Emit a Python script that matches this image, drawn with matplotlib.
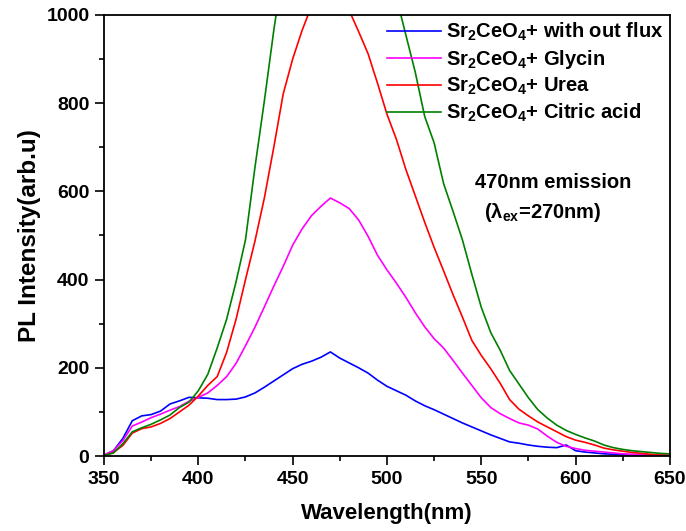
import numpy as np
import matplotlib
matplotlib.use("Agg")
import matplotlib.pyplot as plt
from matplotlib.ticker import MultipleLocator

# wavelength grid (nm)
wavelength = np.arange(350, 651, 5)

# PL intensity, one value per 5 nm
no_flux = [2, 12, 40, 80, 91, 94, 102, 118, 125, 133, 132, 131, 128, 128, 129,
           134, 143, 156, 170, 184, 198, 208, 215, 224, 236, 222, 211, 200, 188,
           172, 158, 148, 138, 125, 114, 105, 95, 85, 75, 66, 57, 48, 40, 32, 29,
           25, 22, 20, 19, 25, 12, 9, 7, 5, 4, 3, 3, 2, 2, 1, 1]
glycin = [2, 12, 35, 68, 77, 87, 95, 104, 112, 124, 133, 143, 160, 180, 210,
          250, 292, 338, 385, 430, 478, 515, 545, 566, 585, 574, 561, 535, 498,
          455, 422, 392, 360, 325, 293, 266, 245, 217, 188, 160, 132, 110, 96,
          85, 75, 70, 61, 45, 31, 22, 17, 13, 11, 9, 7, 5, 4, 3, 2, 2, 1]
urea = [1, 8, 24, 52, 62, 66, 74, 85, 100, 115, 136, 160, 180, 235, 310, 400,
        487, 585, 700, 821, 900, 965, 1020, 1060, 1075, 1060, 1010, 962, 912,
        845, 775, 718, 650, 590, 530, 473, 420, 366, 315, 262, 228, 198, 165,
        128, 106, 91, 77, 66, 55, 44, 36, 31, 25, 18, 14, 11, 8, 6, 4, 2, 2]
citric = [1, 7, 28, 55, 64, 72, 82, 93, 110, 122, 148, 185, 245, 310, 395, 490,
          654, 805, 965, 1110, 1260, 1380, 1460, 1500, 1510, 1480, 1400, 1300,
          1200, 1120, 1080, 1040, 955, 870, 770, 710, 618, 555, 490, 412, 337,
          280, 240, 194, 163, 132, 105, 86, 70, 58, 49, 41, 34, 25, 19, 15, 12,
          10, 8, 6, 5]

labels = [r"Sr$_2$CeO$_4$+ with out flux", r"Sr$_2$CeO$_4$+ Glycin",
          r"Sr$_2$CeO$_4$+ Urea", r"Sr$_2$CeO$_4$+ Citric acid"]
colors = ["#0000ff", "#ff00ff", "#ff0000", "#008000"]

plt.rcParams["font.family"] = ["Liberation Sans", "DejaVu Sans"]
plt.rcParams["font.weight"] = "bold"
plt.rcParams["mathtext.fontset"] = "custom"
plt.rcParams["mathtext.rm"] = "Liberation Sans:bold"
plt.rcParams["mathtext.it"] = "Liberation Sans:bold"
plt.rcParams["mathtext.bf"] = "Liberation Sans:bold"
plt.rcParams["mathtext.default"] = "rm"

fig = plt.figure(figsize=(6.86, 5.31), dpi=100)
ax = fig.add_axes([0.1516, 0.1412, 0.825, 0.8306])

for ys, lab, c in zip([no_flux, glycin, urea, citric], labels, colors):
    ax.plot(wavelength, ys, color=c, lw=1.2, label=lab)

ax.set_xlim(350, 650)
ax.set_ylim(0, 1000)
ax.xaxis.set_major_locator(MultipleLocator(50))
ax.xaxis.set_minor_locator(MultipleLocator(25))
ax.yaxis.set_major_locator(MultipleLocator(200))
ax.yaxis.set_minor_locator(MultipleLocator(100))
ax.tick_params(which="major", direction="out", length=6.5, width=1.2,
               labelsize=14, pad=4, top=False, right=False)
ax.tick_params(which="minor", direction="out", length=3.5, width=1.2,
               top=False, right=False)
for lbl in ax.get_xticklabels() + ax.get_yticklabels():
    lbl.set_fontweight("bold")
for sp in ax.spines.values():
    sp.set_linewidth(1.3)

ax.set_xlabel("Wavelength(nm)", fontsize=16, fontweight="bold", labelpad=11)
ax.set_ylabel("PL Intensity(arb.u)", fontsize=17.5, fontweight="bold", labelpad=4)

leg = ax.legend(loc="upper right", frameon=False, fontsize=14.5, handlelength=2.7,
                handletextpad=0.25, labelspacing=0.24, borderaxespad=0.0,
                borderpad=0.3)
for t in leg.get_texts():
    t.set_fontweight("bold")

ax.text(0.655, 0.62, "470nm emission", transform=ax.transAxes, fontsize=14.5,
        fontweight="bold", va="center", ha="left")
ax.text(0.672, 0.553, "(λ$_{ex}$=270nm)", transform=ax.transAxes, fontsize=14.5,
        fontweight="bold", va="center", ha="left")

fig.savefig("out.png", dpi=100)
